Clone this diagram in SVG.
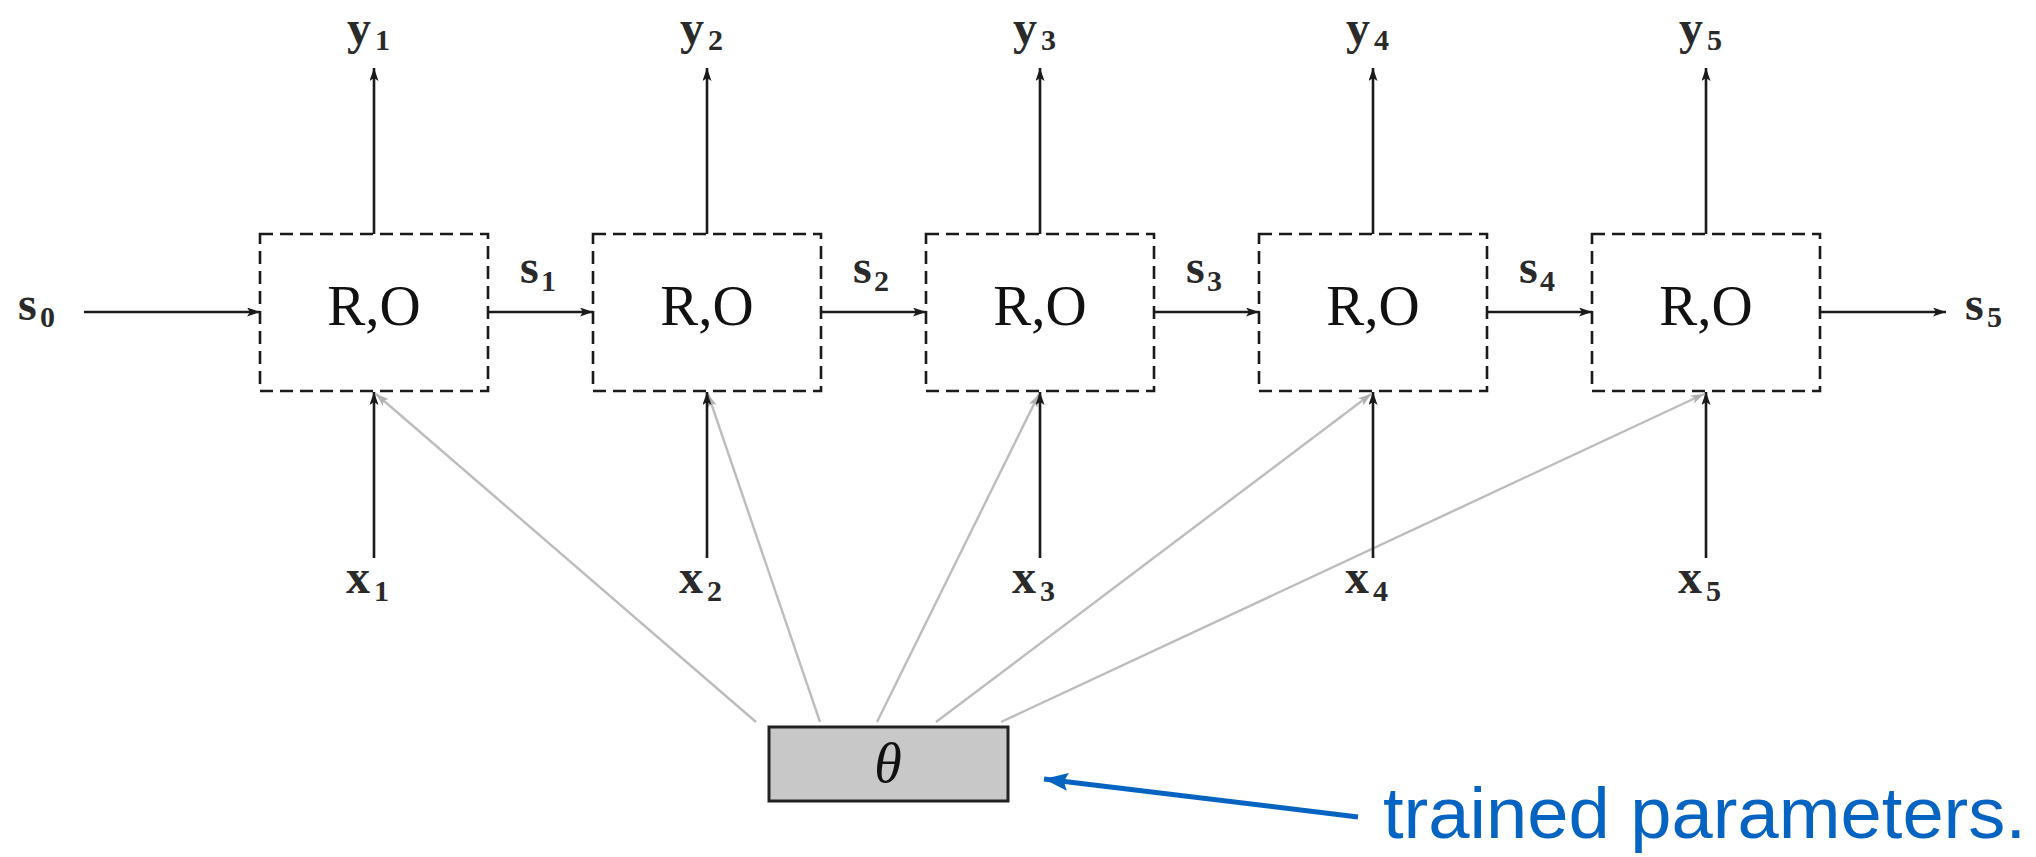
<svg xmlns="http://www.w3.org/2000/svg" width="2036" height="857" viewBox="0 0 2036 857">
<style>
.box{fill:none;stroke:#1a1a1a;stroke-width:2.6;stroke-dasharray:13 7}
.arr{stroke:#1a1a1a;stroke-width:2.6;fill:none;marker-end:url(#ah)}
.gr{stroke:#bdbdbd;stroke-width:2.4;fill:none;marker-end:url(#gh)}
.lbl{font-family:"Liberation Serif","DejaVu Serif",serif;font-size:48px;font-weight:bold;fill:#2a2a2a}
.sub{font-size:30px}
.ro{font-family:"Liberation Serif","DejaVu Serif",serif;font-size:57px;fill:#111}
</style>
<defs>
<marker id="ah" markerUnits="userSpaceOnUse" markerWidth="14" markerHeight="10" refX="13" refY="4.5" orient="auto"><path d="M0,0 L13,4.5 L0,9 L3,4.5 Z" fill="#1a1a1a"/></marker>
<marker id="gh" markerUnits="userSpaceOnUse" markerWidth="14" markerHeight="10" refX="13" refY="4.5" orient="auto"><path d="M0,0 L13,4.5 L0,9 L3,4.5 Z" fill="#b0b0b0"/></marker>
<marker id="bh" markerUnits="userSpaceOnUse" markerWidth="26" markerHeight="20" refX="24" refY="9" orient="auto"><path d="M0,0 L24,9 L0,18 L4,9 Z" fill="#0563C1"/></marker>
</defs>
<rect width="2036" height="857" fill="#fff"/>
<g id="connectors">
<path class="gr" d="M756,722 L376,394"/>
<path class="gr" d="M820,722 L708,394"/>
<path class="gr" d="M877,722 L1039,394"/>
<path class="gr" d="M936,722 L1371,394"/>
<path class="gr" d="M1001,722 L1704,394"/>
<path class="arr" d="M374,234 L374,68"/>
<path class="arr" d="M707,234 L707,68"/>
<path class="arr" d="M1040,234 L1040,68"/>
<path class="arr" d="M1373,234 L1373,68"/>
<path class="arr" d="M1706,234 L1706,68"/>
<path class="arr" d="M374,558 L374,392"/>
<path class="arr" d="M707,558 L707,392"/>
<path class="arr" d="M1040,558 L1040,392"/>
<path class="arr" d="M1373,558 L1373,392"/>
<path class="arr" d="M1706,558 L1706,392"/>
<path class="arr" d="M84,312 L260,312"/>
<path class="arr" d="M488,312 L593,312"/>
<path class="arr" d="M821,312 L926,312"/>
<path class="arr" d="M1154,312 L1259,312"/>
<path class="arr" d="M1487,312 L1592,312"/>
<path class="arr" d="M1820,312 L1946,312"/>
<path d="M1358,817 L1044,779" stroke="#0563C1" stroke-width="5" fill="none" marker-end="url(#bh)"/>
</g>
<g id="box1"><rect class="box" x="260" y="234" width="228" height="157"/><text class="ro" x="374" y="325" text-anchor="middle">R,O</text></g>
<g id="box2"><rect class="box" x="593" y="234" width="228" height="157"/><text class="ro" x="707" y="325" text-anchor="middle">R,O</text></g>
<g id="box3"><rect class="box" x="926" y="234" width="228" height="157"/><text class="ro" x="1040" y="325" text-anchor="middle">R,O</text></g>
<g id="box4"><rect class="box" x="1259" y="234" width="228" height="157"/><text class="ro" x="1373" y="325" text-anchor="middle">R,O</text></g>
<g id="box5"><rect class="box" x="1592" y="234" width="228" height="157"/><text class="ro" x="1706" y="325" text-anchor="middle">R,O</text></g>
<g id="outputs">
<text class="lbl" x="347" y="44">y<tspan class="sub" x="375" y="50">1</tspan></text>
<text class="lbl" x="680" y="44">y<tspan class="sub" x="708" y="50">2</tspan></text>
<text class="lbl" x="1013" y="44">y<tspan class="sub" x="1041" y="50">3</tspan></text>
<text class="lbl" x="1346" y="44">y<tspan class="sub" x="1374" y="50">4</tspan></text>
<text class="lbl" x="1679" y="44">y<tspan class="sub" x="1707" y="50">5</tspan></text>
</g>
<g id="inputs">
<text class="lbl" x="346" y="593">x<tspan class="sub" x="374" y="601">1</tspan></text>
<text class="lbl" x="679" y="593">x<tspan class="sub" x="707" y="601">2</tspan></text>
<text class="lbl" x="1012" y="593">x<tspan class="sub" x="1040" y="601">3</tspan></text>
<text class="lbl" x="1345" y="593">x<tspan class="sub" x="1373" y="601">4</tspan></text>
<text class="lbl" x="1678" y="593">x<tspan class="sub" x="1706" y="601">5</tspan></text>
</g>
<g id="states">
<text class="lbl" x="18" y="320">s<tspan class="sub" x="40" y="327">0</tspan></text>
<text class="lbl" x="520" y="283">s<tspan class="sub" x="541" y="291">1</tspan></text>
<text class="lbl" x="853" y="283">s<tspan class="sub" x="874" y="291">2</tspan></text>
<text class="lbl" x="1186" y="283">s<tspan class="sub" x="1207" y="291">3</tspan></text>
<text class="lbl" x="1519" y="283">s<tspan class="sub" x="1540" y="291">4</tspan></text>
<text class="lbl" x="1965" y="320">s<tspan class="sub" x="1987" y="327">5</tspan></text>
</g>
<g id="theta">
<rect x="769" y="727" width="239" height="74" fill="#c8c8c8" stroke="#222" stroke-width="3"/>
<text x="888" y="782" text-anchor="middle" font-family="Liberation Serif, serif" font-style="italic" font-size="56" fill="#111">θ</text>
</g>
<g id="annotation">
<text x="1383" y="838" font-family="Liberation Sans, Arial, sans-serif" font-size="73" fill="#0563C1" textLength="643" lengthAdjust="spacingAndGlyphs">trained parameters.</text>
</g>
</svg>
